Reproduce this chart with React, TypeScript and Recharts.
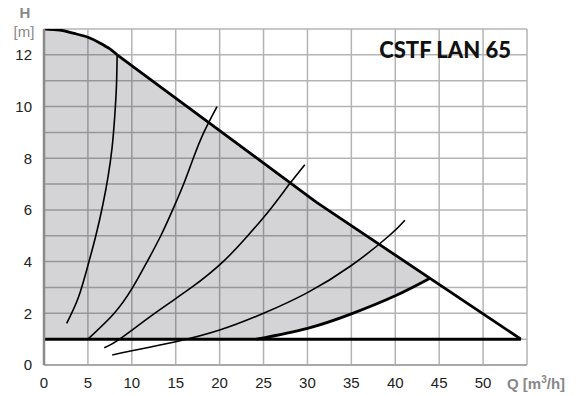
import { ComposedChart, Area, Line, XAxis, YAxis, CartesianGrid } from 'recharts'

// max speed curve (Q in m3/h, H in m): rounded head, then almost straight
const headQ = [0, 1.8, 3.3, 5, 6.36, 7.5, 8.33]
const headH = [13, 12.96, 12.84, 12.68, 12.46, 12.23, 12]
const maxQ = [8.33, 31, 54.3]
const maxH = [12, 6.3, 1]

// min speed curve + bottom limit
const minQ = [24.2, 30, 35, 40, 43.9]
const minH = [1, 1.42, 1.98, 2.68, 3.35]
const baseQ = [0, 54.3]
const baseH = [1, 1]

// shaded operating range
const bandQ = [0, 1.8, 3.3, 5, 6.36, 7.5, 8.33, 16, 24.2, 30, 35, 40, 43.9]
const bandLow = [1, 1, 1, 1, 1, 1, 1, 1, 1, 1.42, 1.98, 2.68, 3.35]
const bandHigh = [13, 12.96, 12.84, 12.68, 12.46, 12.23, 12, 10.07, 7.99, 6.53, 5.39, 4.26, 3.35]

// thin system curves
const sys1Q = [2.58, 3.9, 5.0, 5.9, 6.7, 7.3, 7.75, 8.05, 8.25, 8.33]
const sys1H = [1.61, 2.6, 3.85, 5.0, 6.2, 7.3, 8.4, 9.6, 10.8, 12]
const sys2Q = [5.0, 8.0, 10.1, 11.75, 13.3, 14.65, 15.9, 17.0, 18.2, 19.7]
const sys2H = [1.0, 2.0, 3.0, 4.0, 5.0, 6.0, 7.0, 8.0, 9.0, 10.0]
const sys3Q = [6.86, 8.6, 12.6, 16.8, 20.4, 23.2, 25.7, 27.95, 29.7]
const sys3H = [0.67, 1.0, 2.0, 3.0, 4.0, 5.0, 6.0, 7.0, 7.75]
const sys4Q = [7.77, 10, 15, 20, 25, 30, 35, 39.3, 41.1]
const sys4H = [0.39, 0.55, 0.9, 1.35, 2.0, 2.8, 3.85, 5.0, 5.6]

const xTicks = [0, 5, 10, 15, 20, 25, 30, 35, 40, 45, 50, 55]
const yTicks = [0, 1, 2, 3, 4, 5, 6, 7, 8, 9, 10, 11, 12, 13]

const toPts = (q: number[], h: number[]) => q.map((v, i) => ({ q: v, h: h[i] }))

const bandData = bandQ.map((v, i) => ({ q: v, band: [bandLow[i], bandHigh[i]] }))

const thinCurves = [toPts(sys1Q, sys1H), toPts(sys2Q, sys2H), toPts(sys3Q, sys3H), toPts(sys4Q, sys4H)]

const font = '"Liberation Sans", Arial, sans-serif'

export default function App() {
    return (
        <div style={{ position: 'absolute', left: 0, top: 0, width: 578, height: 396, background: '#fff' }}>
            <ComposedChart
                width={578}
                height={396}
                margin={{ top: 29, right: 51, bottom: 0, left: 0 }}
            >
                <CartesianGrid stroke="#b4b4b4" strokeWidth={1.5} />
                <XAxis
                    type="number"
                    dataKey="q"
                    domain={[0, 55]}
                    ticks={xTicks}
                    allowDataOverflow
                    height={31}
                    tickLine={false}
                    tickSize={0}
                    tickMargin={12}
                    tickFormatter={(v: number) => (v === 55 ? '' : String(v))}
                    axisLine={{ stroke: '#a8a8a8', strokeWidth: 2 }}
                    tick={{ fill: '#222', fontSize: 15, fontFamily: font }}
                />
                <YAxis
                    type="number"
                    dataKey="h"
                    domain={[0, 13]}
                    ticks={yTicks}
                    allowDataOverflow
                    width={44}
                    tickLine={false}
                    tickSize={0}
                    tickMargin={12}
                    tickFormatter={(v: number) => (v % 2 === 0 && v !== 13 ? String(v) : '')}
                    axisLine={{ stroke: '#8a8a8a', strokeWidth: 2.5 }}
                    tick={{ fill: '#222', fontSize: 15, fontFamily: font }}
                />
                <Area
                    data={bandData}
                    dataKey="band"
                    type="monotone"
                    stroke="none"
                    fill="#1c1a28"
                    fillOpacity={0.19}
                    isAnimationActive={false}
                />
                {thinCurves.map((pts, i) => (
                    <Line
                        key={i}
                        data={pts}
                        dataKey="h"
                        type="natural"
                        stroke="#000"
                        strokeWidth={1.6}
                        dot={false}
                        activeDot={false}
                        isAnimationActive={false}
                    />
                ))}
                <Line
                    data={toPts(baseQ, baseH)}
                    dataKey="h"
                    type="linear"
                    stroke="#000"
                    strokeWidth={3}
                    dot={false}
                    activeDot={false}
                    isAnimationActive={false}
                />
                <Line
                    data={toPts(minQ, minH)}
                    dataKey="h"
                    type="natural"
                    stroke="#000"
                    strokeWidth={2.8}
                    dot={false}
                    activeDot={false}
                    isAnimationActive={false}
                />
                <Line
                    data={toPts(headQ, headH)}
                    dataKey="h"
                    type="natural"
                    stroke="#000"
                    strokeWidth={2.8}
                    dot={false}
                    activeDot={false}
                    isAnimationActive={false}
                />
                <Line
                    data={toPts(maxQ, maxH)}
                    dataKey="h"
                    type="linear"
                    stroke="#000"
                    strokeWidth={2.8}
                    strokeLinejoin="round"
                    dot={false}
                    activeDot={false}
                    isAnimationActive={false}
                />
            </ComposedChart>
            <svg
                width={578}
                height={396}
                style={{ position: 'absolute', left: 0, top: 0, pointerEvents: 'none' }}
            >
                <text x={25} y={18} textAnchor="middle" fill="#888" fontSize={15} fontWeight="bold" fontFamily={font}>H</text>
                <text x={24} y={37} textAnchor="middle" fill="#888" fontSize={15} fontFamily={font}>[m]</text>
                <text x={511} y={58} textAnchor="end" fill="#111" fontSize={22} fontWeight={900} fontFamily="Lato, sans-serif">
                    CSTF LAN 65
                </text>
                <text x={507} y={389} fill="#888" fontSize={15} fontWeight="bold" fontFamily={font}>
                    Q [m<tspan dy={-6} fontSize={10}>3</tspan><tspan dy={6}>/h]</tspan>
                </text>
            </svg>
        </div>
    )
}
